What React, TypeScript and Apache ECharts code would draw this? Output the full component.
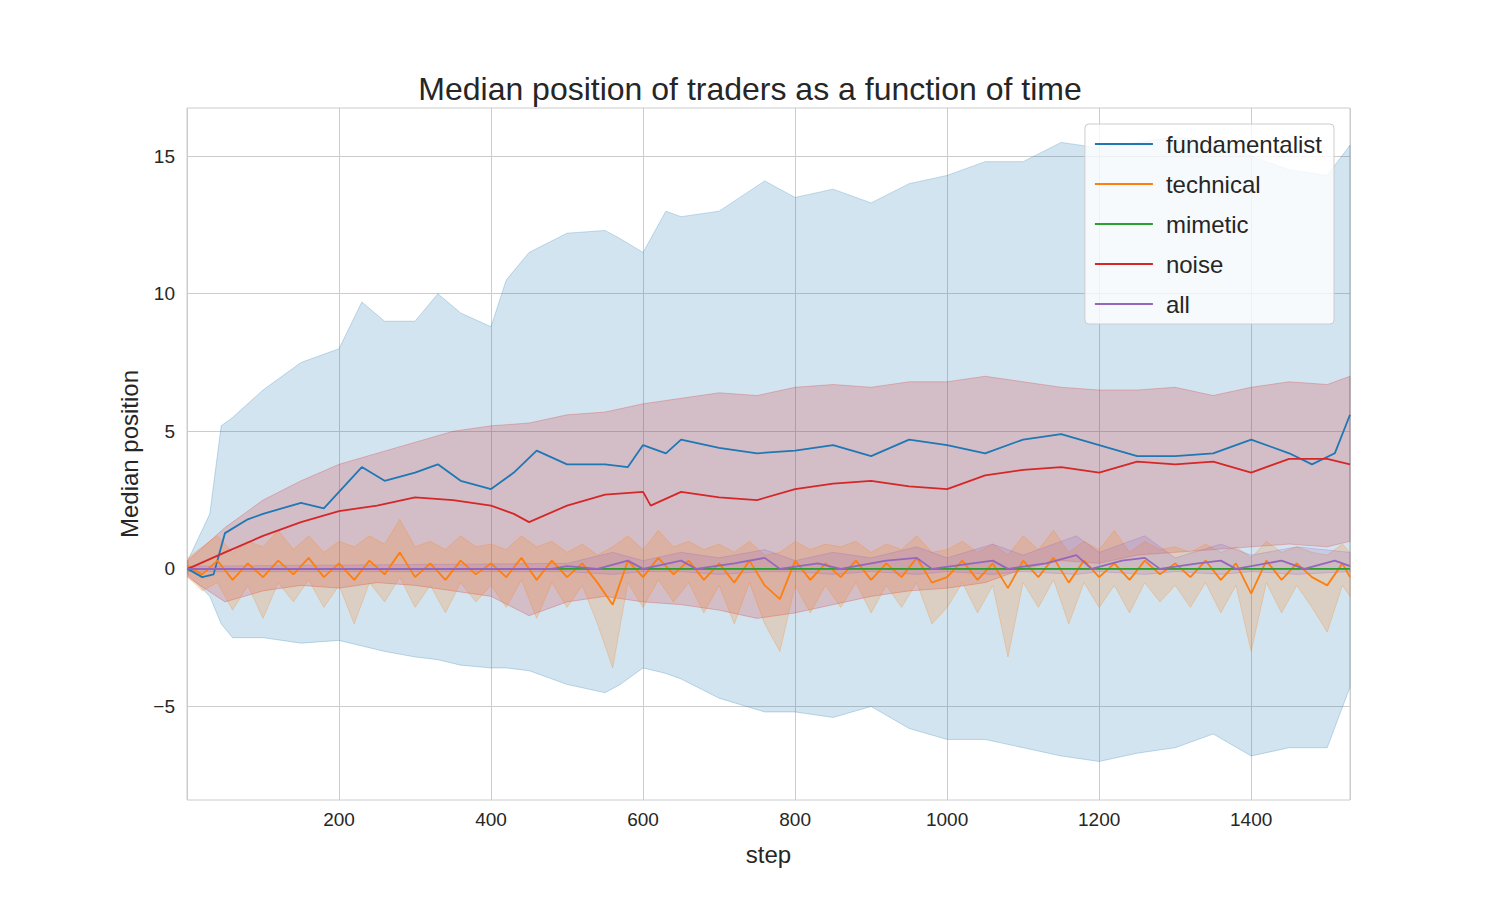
import React, { useEffect, useRef } from 'react';
import * as echarts from 'echarts';

// bands: [step, lower, upper]
const fundBand: number[][] = [
  [1, -0.2, 0.3], [30, -1, 2], [45, -2, 5.2], [60, -2.5, 5.5], [100, -2.5, 6.5], [150, -2.7, 7.5],
  [200, -2.6, 8], [230, -2.8, 9.7], [260, -3, 9], [300, -3.2, 9], [330, -3.3, 10], [360, -3.5, 9.3],
  [400, -3.6, 8.8], [420, -3.6, 10.5], [450, -3.7, 11.5], [500, -4.2, 12.2], [550, -4.5, 12.3],
  [570, -4.2, 12], [600, -3.6, 11.5], [630, -3.8, 13], [650, -4, 12.8], [700, -4.7, 13],
  [760, -5.2, 14.1], [800, -5.2, 13.5], [850, -5.4, 13.8], [900, -5, 13.3], [950, -5.8, 14],
  [1000, -6.2, 14.3], [1050, -6.2, 14.8], [1100, -6.5, 14.8], [1150, -6.8, 15.5], [1200, -7, 15.3],
  [1250, -6.7, 15.5], [1300, -6.5, 15.7], [1350, -6, 15.5], [1400, -6.8, 15], [1450, -6.5, 14.5],
  [1500, -6.5, 14.3], [1530, -4.3, 15.4]
];

const fundMedian: number[][] = [
  [1, 0], [20, -0.3], [35, -0.2], [50, 1.3], [80, 1.8], [100, 2], [150, 2.4], [180, 2.2], [200, 2.8],
  [230, 3.7], [260, 3.2], [300, 3.5], [330, 3.8], [360, 3.2], [400, 2.9], [430, 3.5], [460, 4.3],
  [500, 3.8], [550, 3.8], [580, 3.7], [600, 4.5], [630, 4.2], [650, 4.7], [700, 4.4], [750, 4.2],
  [800, 4.3], [850, 4.5], [900, 4.1], [950, 4.7], [1000, 4.5], [1050, 4.2], [1100, 4.7], [1150, 4.9],
  [1200, 4.5], [1250, 4.1], [1300, 4.1], [1350, 4.2], [1400, 4.7], [1450, 4.2], [1480, 3.8],
  [1510, 4.2], [1530, 5.6]
];

const noiseBand: number[][] = [
  [1, -0.3, 0.3], [50, -1.2, 1.5], [100, -0.8, 2.5], [150, -0.6, 3.2], [200, -0.7, 3.8], [250, -0.5, 4.2],
  [300, -0.6, 4.6], [350, -0.8, 5], [400, -1, 5.2], [450, -1.7, 5.3], [500, -1.2, 5.6], [550, -1, 5.7],
  [600, -1.2, 6], [650, -1.3, 6.2], [700, -1.5, 6.4], [750, -1.8, 6.3], [800, -1.6, 6.6], [850, -1.3, 6.7],
  [900, -1, 6.6], [950, -0.8, 6.8], [1000, -0.7, 6.8], [1050, -0.5, 7], [1100, 0, 6.8], [1150, 0.3, 6.6],
  [1200, 0.2, 6.5], [1250, 0.5, 6.5], [1300, 0.6, 6.6], [1350, 0.7, 6.3], [1400, 0.8, 6.6],
  [1450, 0.9, 6.8], [1500, 0.8, 6.7], [1530, 1, 7]
];

const noiseMedian: number[][] = [
  [1, 0], [50, 0.6], [100, 1.2], [150, 1.7], [200, 2.1], [250, 2.3], [300, 2.6], [350, 2.5], [400, 2.3],
  [430, 2], [450, 1.7], [500, 2.3], [550, 2.7], [600, 2.8], [610, 2.3], [650, 2.8], [700, 2.6],
  [750, 2.5], [800, 2.9], [850, 3.1], [900, 3.2], [950, 3], [1000, 2.9], [1050, 3.4], [1100, 3.6],
  [1150, 3.7], [1200, 3.5], [1250, 3.9], [1300, 3.8], [1350, 3.9], [1400, 3.5], [1450, 4], [1500, 4],
  [1530, 3.8]
];

const techBand: number[][] = [
  [1, -0.3, 0.4], [20, -0.8, 0.8], [40, -0.5, 1.2], [60, -1.5, 0.6], [80, -0.6, 1], [100, -1.8, 0.8],
  [120, -0.5, 1.4], [140, -1.2, 0.7], [160, -0.4, 1.2], [180, -1.4, 0.6], [200, -0.6, 1], [220, -2, 0.8],
  [240, -0.5, 1.2], [260, -1.2, 0.9], [280, -0.3, 1.8], [300, -1.4, 0.8], [320, -0.6, 1], [340, -1.6, 0.7],
  [360, -0.5, 1.2], [380, -1.2, 0.8], [400, -0.6, 0.9], [420, -1.4, 0.7], [440, -0.4, 1.2], [460, -1.8, 0.8],
  [480, -0.5, 1], [500, -1.4, 0.6], [520, -0.6, 0.9], [540, -2, 0.5], [560, -3.6, 0.8], [580, -0.5, 1.2],
  [600, -1.4, 0.7], [620, -0.4, 1.4], [640, -1.2, 0.8], [660, -0.5, 1], [680, -1.6, 0.7], [700, -0.6, 0.9],
  [720, -2, 0.6], [740, -0.5, 1], [760, -2, 0.5], [780, -3, 0.6], [800, -0.6, 1], [820, -1.6, 0.7],
  [840, -0.6, 0.9], [860, -1.4, 0.8], [880, -0.5, 1], [900, -1.6, 0.6], [920, -0.6, 0.9], [940, -1.4, 0.7],
  [960, -0.5, 1.2], [980, -2, 0.6], [1000, -1.4, 0.7], [1020, -0.5, 1], [1040, -1.6, 0.6], [1060, -0.6, 0.9],
  [1080, -3.2, 0.5], [1100, -0.5, 1.2], [1120, -1.4, 0.7], [1140, -0.4, 1.4], [1160, -2, 0.6], [1180, -0.5, 1],
  [1200, -1.4, 0.7], [1220, -0.6, 1.4], [1240, -1.6, 0.6], [1260, -0.5, 1], [1280, -1.2, 0.7], [1300, -0.6, 0.8],
  [1320, -1.4, 0.6], [1340, -0.5, 0.9], [1360, -1.6, 0.6], [1380, -0.6, 0.8], [1400, -3, 0.4], [1420, -0.5, 1],
  [1440, -1.6, 0.6], [1460, -0.6, 0.8], [1480, -1.4, 0.6], [1500, -2.3, 0.5], [1520, -0.6, 0.9], [1530, -1, 0.6]
];

const techMedian: number[][] = [
  [1, 0.1], [20, -0.2], [40, 0.3], [60, -0.4], [80, 0.2], [100, -0.3], [120, 0.3], [140, -0.2], [160, 0.4],
  [180, -0.3], [200, 0.2], [220, -0.4], [240, 0.3], [260, -0.2], [280, 0.6], [300, -0.3], [320, 0.2],
  [340, -0.4], [360, 0.3], [380, -0.2], [400, 0.2], [420, -0.3], [440, 0.4], [460, -0.4], [480, 0.3],
  [500, -0.3], [520, 0.2], [540, -0.5], [560, -1.3], [580, 0.3], [600, -0.3], [620, 0.4], [640, -0.2],
  [660, 0.3], [680, -0.4], [700, 0.2], [720, -0.5], [740, 0.3], [760, -0.6], [780, -1.1], [800, 0.3],
  [820, -0.4], [840, 0.2], [860, -0.3], [880, 0.3], [900, -0.4], [920, 0.2], [940, -0.3], [960, 0.4],
  [980, -0.5], [1000, -0.3], [1020, 0.3], [1040, -0.4], [1060, 0.2], [1080, -0.7], [1100, 0.3], [1120, -0.3],
  [1140, 0.4], [1160, -0.5], [1180, 0.3], [1200, -0.3], [1220, 0.2], [1240, -0.4], [1260, 0.3], [1280, -0.2],
  [1300, 0.2], [1320, -0.3], [1340, 0.3], [1360, -0.4], [1380, 0.2], [1400, -0.9], [1420, 0.3], [1440, -0.4],
  [1460, 0.2], [1480, -0.3], [1500, -0.6], [1520, 0.2], [1530, -0.3]
];

const mimeticMedian: number[][] = [[1, 0], [1530, 0]];

const allBand: number[][] = [
  [1, -0.1, 0.1], [500, -0.1, 0.2], [560, -0.2, 0.6], [600, -0.1, 0.3], [650, -0.1, 0.6], [700, -0.2, 0.4],
  [760, -0.1, 0.7], [800, -0.1, 0.3], [850, -0.2, 0.6], [900, -0.1, 0.4], [960, -0.2, 0.8], [1000, -0.1, 0.4],
  [1060, -0.2, 0.9], [1100, -0.1, 0.5], [1170, -0.2, 1.2], [1200, -0.1, 0.6], [1260, -0.2, 1.2],
  [1300, -0.1, 0.4], [1360, -0.2, 0.9], [1400, -0.1, 0.5], [1460, -0.2, 0.8], [1530, -0.1, 0.6]
];

const allMedian: number[][] = [
  [1, 0], [480, 0], [500, 0.1], [540, 0], [580, 0.3], [600, 0], [650, 0.3], [670, 0], [720, 0.2], [760, 0.4],
  [780, 0], [830, 0.2], [860, 0], [920, 0.3], [960, 0.4], [980, 0], [1060, 0.3], [1080, 0], [1130, 0.2],
  [1170, 0.5], [1190, 0], [1230, 0.3], [1260, 0.4], [1280, 0], [1330, 0.2], [1360, 0.3], [1380, 0],
  [1440, 0.3], [1470, 0], [1510, 0.3], [1530, 0.1]
];

const yTicks = [-5, 0, 5, 10, 15];

// band drawn as one polygon through the axes' own coord()
const bandSeries = (band: number[][], fill: string, stroke: string): any => ({
  type: 'custom', silent: true, z: 1,
  data: band,
  encode: { x: 0, y: [1, 2] },
  renderItem: (params: any, api: any) => {
    if (params.dataIndex !== 0) return null;
    const top = band.map(d => api.coord([d[0], d[2]]));
    const bottom = band.slice().reverse().map(d => api.coord([d[0], d[1]]));
    return {
      type: 'polygon',
      shape: { points: top.concat(bottom) },
      style: { fill, stroke, lineWidth: 1 }
    };
  }
});

const lineSeries = (name: string, data: number[][], color: string, width = 1.8): any => ({
  name, type: 'line', symbol: 'none', data, lineStyle: { color, width }, itemStyle: { color }, z: 3
});

const App: React.FC = () => {
  const chartRef = useRef<HTMLDivElement>(null);

  useEffect(() => {
    document.body.style.margin = '0';
    if (!chartRef.current) return;
    const chart = echarts.init(chartRef.current, undefined, { renderer: 'svg' });
    const font = 'Liberation Sans';

    chart.setOption({
      animation: false,
      backgroundColor: '#ffffff',
      textStyle: { fontFamily: font },
      title: {
        text: 'Median position of traders as a function of time',
        left: 'center', top: 68,
        textStyle: { fontSize: 32, fontWeight: 'normal', color: '#262626', fontFamily: font }
      },
      grid: { left: 187, right: 150, top: 108, bottom: 100, show: true, borderColor: '#cccccc', borderWidth: 1 },
      legend: {
        data: ['fundamentalist', 'technical', 'mimetic', 'noise', 'all'],
        orient: 'vertical', right: 166, top: 124,
        itemGap: 16, itemWidth: 58, itemHeight: 2, icon: 'rect',
        padding: [8, 12, 8, 10],
        backgroundColor: 'rgba(255,255,255,0.8)', borderColor: '#cccccc', borderWidth: 1, borderRadius: 4,
        textStyle: { fontSize: 24, color: '#262626', fontFamily: font, padding: [0, 0, 0, 8] }
      },
      xAxis: {
        type: 'value', min: 0, max: 1530, interval: 200,
        name: 'step', nameLocation: 'middle', nameGap: 42,
        nameTextStyle: { fontSize: 24, color: '#262626' },
        axisLine: { show: false }, axisTick: { show: false },
        axisLabel: { fontSize: 19, color: '#262626', showMinLabel: false, showMaxLabel: false, margin: 10,
          formatter: (v: number) => String(v) },
        splitLine: { show: true, lineStyle: { color: '#cccccc', width: 1 } }
      },
      yAxis: {
        type: 'value', min: -8.4, max: 16.75,
        name: 'Median position', nameLocation: 'middle', nameGap: 46, nameRotate: 90,
        nameTextStyle: { fontSize: 24, color: '#262626' },
        axisLine: { show: false },
        axisTick: { show: false, customValues: yTicks },
        axisLabel: { fontSize: 19, color: '#262626', customValues: yTicks, margin: 12,
          formatter: (v: number) => (v < 0 ? '\u2212' + Math.abs(v) : String(v)) },
        splitLine: { show: true, lineStyle: { color: '#cccccc', width: 1 } }
      },
      series: [
        bandSeries(fundBand, 'rgba(31,119,180,0.2)', 'rgba(31,119,180,0.25)'),
        bandSeries(noiseBand, 'rgba(214,39,40,0.2)', 'rgba(214,39,40,0.25)'),
        bandSeries(techBand, 'rgba(255,127,14,0.2)', 'rgba(255,127,14,0.25)'),
        bandSeries(allBand, 'rgba(148,103,189,0.2)', 'rgba(148,103,189,0.25)'),
        lineSeries('fundamentalist', fundMedian, '#1f77b4'),
        lineSeries('technical', techMedian, '#ff7f0e'),
        lineSeries('mimetic', mimeticMedian, '#2ca02c'),
        lineSeries('noise', noiseMedian, '#d62728'),
        lineSeries('all', allMedian, '#9467bd')
      ]
    });

    return () => chart.dispose();
  }, []);

  return <div ref={chartRef} style={{ width: 1500, height: 900 }} />;
};

export default App;
